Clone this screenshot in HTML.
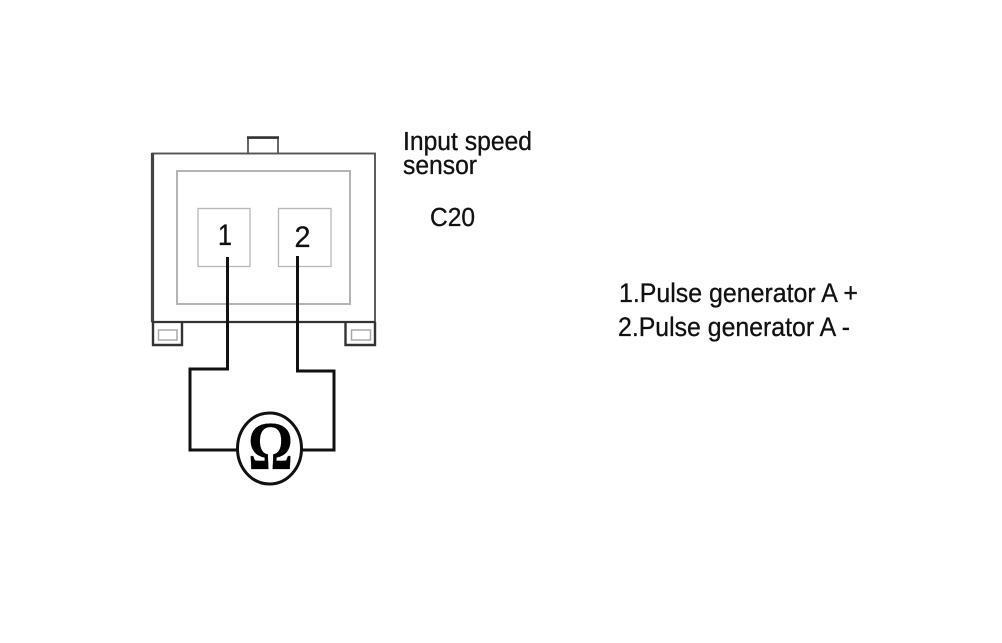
<!DOCTYPE html>
<html>
<head>
<meta charset="utf-8">
<style>
html,body{margin:0;padding:0;background:#fff;}
svg{display:block;filter:blur(.35px);}
text{fill:#111;stroke:#111;stroke-width:.3px;font-family:"Liberation Sans",Arial,sans-serif;}
</style>
</head>
<body>
<svg width="1002" height="643" viewBox="0 0 1002 643" xmlns="http://www.w3.org/2000/svg">
<rect width="1002" height="643" fill="#fff"/>
<!-- tab -->
<path d="M248 153V138H278V153" fill="none" stroke="#555" stroke-width="1.800"/>
<path d="M247 137.500H279" stroke="#333" stroke-width="2.500"/>
<!-- body -->
<rect x="152.500" y="153.500" width="222.500" height="168.500" fill="#fff" stroke="#555" stroke-width="1.900"/>
<path d="M152.500 153V322" stroke="#444" stroke-width="3.200"/>
<rect x="177" y="171" width="173" height="133" fill="none" stroke="#b4b4b4" stroke-width="2"/>
<rect x="198" y="208.500" width="52" height="58" fill="none" stroke="#b8b8b8" stroke-width="1.300"/>
<rect x="278.500" y="208.500" width="52.500" height="58" fill="none" stroke="#b8b8b8" stroke-width="1.300"/>
<!-- feet -->
<path d="M153 322V345H182V322" fill="#fff" stroke="#333" stroke-width="2.400"/>
<path d="M345.500 322V345H375V322" fill="#fff" stroke="#333" stroke-width="2.400"/>
<rect x="158.500" y="330" width="18.500" height="10" fill="none" stroke="#aaa" stroke-width="1.500"/>
<rect x="351.500" y="330" width="19" height="10" fill="none" stroke="#aaa" stroke-width="1.500"/>
<path d="M152 322H375" stroke="#333" stroke-width="2.200"/>
<!-- labels in pins -->
<text x="218" y="245" font-size="30" textLength="14" lengthAdjust="spacingAndGlyphs">1</text>
<text x="294.500" y="247" font-size="30" textLength="16" lengthAdjust="spacingAndGlyphs">2</text>
<!-- wires -->
<path d="M227.500 257V369H190V450H238" fill="none" stroke="#111" stroke-width="3"/>
<path d="M297.500 256V371H334V450H300" fill="none" stroke="#111" stroke-width="3"/>
<!-- meter -->
<ellipse cx="269.500" cy="448.500" rx="32" ry="35.500" fill="#fff" stroke="#111" stroke-width="3"/>
<text transform="translate(270.500 469) scale(.96 1.18)" x="0" y="0" font-size="58" font-weight="700" text-anchor="middle" style="font-family:'Liberation Serif',serif;fill:#000;stroke:#000">Ω</text>
<!-- text -->
<text x="403" y="150" font-size="25.500" textLength="129" lengthAdjust="spacingAndGlyphs">Input speed</text>
<text x="403" y="174" font-size="25.500" textLength="74" lengthAdjust="spacingAndGlyphs">sensor</text>
<text x="430" y="226" font-size="25.500" textLength="45" lengthAdjust="spacingAndGlyphs">C20</text>
<text x="619" y="302" font-size="26.500" textLength="239" lengthAdjust="spacingAndGlyphs">1.Pulse generator A +</text>
<text x="618" y="336" font-size="26.500" textLength="232" lengthAdjust="spacingAndGlyphs">2.Pulse generator A -</text>
</svg>
</body>
</html>
